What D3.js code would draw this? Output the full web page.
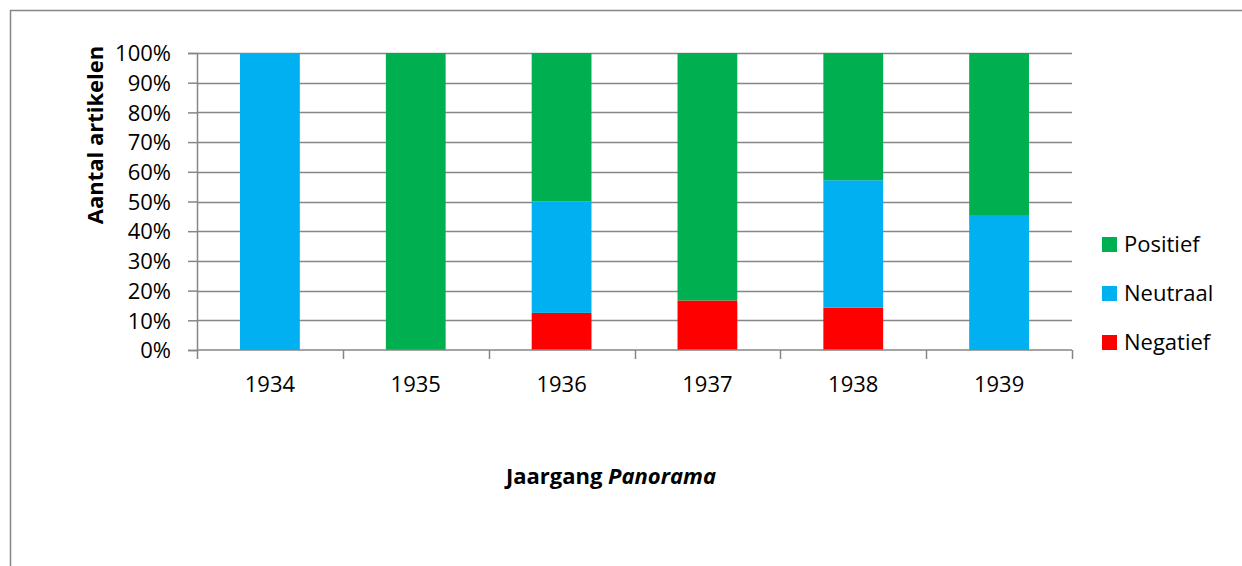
<!DOCTYPE html>
<html>
<head>
<meta charset="utf-8">
<script src="https://cdn.jsdelivr.net/npm/d3@7"></script>
<style>
  html, body { margin: 0; padding: 0; background: #fff; }
  svg { display: block; font-family: "Open Sans", sans-serif; }
</style>
</head>
<body>
<script>
// Share of articles per tone, per volume year of Panorama (fractions of 1)
const years = ["1934", "1935", "1936", "1937", "1938", "1939"];
const negatief = [0, 0, 0.125, 0.1667, 0.1429, 0];
const neutraal = [1, 0, 0.375, 0, 0.4286, 0.4545];
const positief = [0, 1, 0.5, 0.8333, 0.4286, 0.5455];
const seriesNames = ["Negatief", "Neutraal", "Positief"];
const seriesColors = ["#ff0000", "#00b0f0", "#00b050"];
const yTicks = [0, 0.1, 0.2, 0.3, 0.4, 0.5, 0.6, 0.7, 0.8, 0.9, 1];

const W = 1242, H = 566;
const plot = { left: 197, right: 1072, top: 53, bottom: 350 };
const grid = "#868686";

const svg = d3.select("body").append("svg").attr("width", W).attr("height", H);

// Chart frame (runs past the right and bottom edges)
svg.append("rect")
  .attr("x", 10.5).attr("y", 10.5)
  .attr("width", W + 20).attr("height", H + 20)
  .attr("fill", "none").attr("stroke", grid).attr("stroke-width", 1.5);

const x = d3.scaleBand().domain(years).range([plot.left, plot.right]).paddingInner(0.59).paddingOuter(0.295);
const y = d3.scaleLinear().domain([0, 1]).range([plot.bottom, plot.top]);

// Horizontal gridlines
svg.append("g").selectAll("line").data(yTicks.slice(1)).join("line")
  .attr("x1", plot.left).attr("x2", plot.right)
  .attr("y1", d => Math.round(y(d)) + 0.5).attr("y2", d => Math.round(y(d)) + 0.5)
  .attr("stroke", grid).attr("stroke-width", 1.5);

// Stacked bars
const rows = years.map((yr, i) => ({ year: yr, Negatief: negatief[i], Neutraal: neutraal[i], Positief: positief[i] }));
const stack = d3.stack().keys(seriesNames)(rows);
const color = d3.scaleOrdinal().domain(seriesNames).range(seriesColors);

svg.append("g").selectAll("g").data(stack).join("g")
  .attr("fill", s => color(s.key))
  .selectAll("rect").data(s => s).join("rect")
  .attr("x", d => x(d.data.year))
  .attr("width", x.bandwidth())
  .attr("y", d => y(d[1]))
  .attr("height", d => y(d[0]) - y(d[1]));

// Y axis
const yAxis = svg.append("g")
  .attr("transform", `translate(${plot.left},0)`)
  .call(d3.axisLeft(y).tickValues(yTicks).tickFormat(d3.format(".0%")).tickSize(9).tickPadding(17));
yAxis.select(".domain").attr("stroke", grid).attr("stroke-width", 1.5);
yAxis.selectAll(".tick line").attr("stroke", grid).attr("stroke-width", 1.5);
yAxis.selectAll(".tick text").attr("font-size", 22).attr("fill", "#000")
  .attr("font-family", "Open Sans, sans-serif").attr("dy", "0.35em");

// X axis with ticks at category boundaries
const xAxisG = svg.append("g").attr("transform", `translate(0,${plot.bottom})`);
xAxisG.append("line").attr("x1", plot.left).attr("x2", plot.right)
  .attr("stroke", grid).attr("stroke-width", 1.5);
const step = x.step();
const bounds = d3.range(years.length + 1).map(i => plot.left + i * step);
xAxisG.selectAll("line.tk").data(bounds).join("line").attr("class", "tk")
  .attr("x1", d => Math.round(d) + 0.5).attr("x2", d => Math.round(d) + 0.5)
  .attr("y1", 0).attr("y2", 9)
  .attr("stroke", grid).attr("stroke-width", 1.5);
xAxisG.selectAll("text").data(years).join("text")
  .attr("x", d => x(d) + x.bandwidth() / 2)
  .attr("y", 42)
  .attr("text-anchor", "middle").attr("font-size", 22).attr("fill", "#000")
  .text(d => d);

// Axis titles
svg.append("text")
  .attr("transform", "translate(103,135) rotate(-90)")
  .attr("text-anchor", "middle").attr("font-size", 22).attr("font-weight", "bold")
  .text("Aantal artikelen");

const xt = svg.append("text")
  .attr("x", 611).attr("y", 484)
  .attr("text-anchor", "middle").attr("font-size", 22).attr("font-weight", "bold");
xt.append("tspan").text("Jaargang ");
xt.append("tspan").attr("font-style", "italic").text("Panorama");

// Legend (top to bottom: Positief, Neutraal, Negatief)
const legendItems = seriesNames.slice().reverse();
const lg = svg.append("g").selectAll("g").data(legendItems).join("g")
  .attr("transform", (d, i) => `translate(1102,${237 + i * 49})`);
lg.append("rect").attr("width", 15).attr("height", 15).attr("fill", d => color(d));
lg.append("text").attr("x", 22).attr("y", 7.5).attr("dy", "0.36em")
  .attr("font-size", 22).attr("fill", "#000").text(d => d);
</script>
</body>
</html>
